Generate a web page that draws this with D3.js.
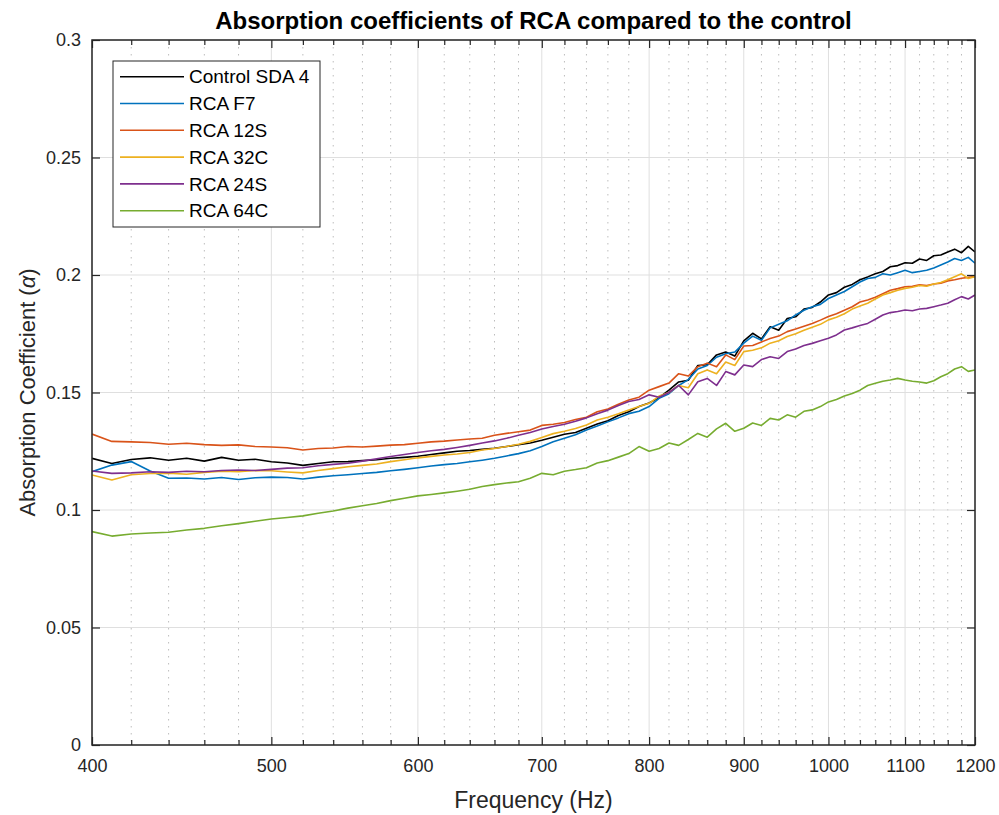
<!DOCTYPE html>
<html>
<head>
<meta charset="utf-8">
<script src="https://cdn.jsdelivr.net/npm/d3@7"></script>
<style>
    body { margin: 0; background: #fff; }
    svg text { font-family: "Liberation Sans", Arial, sans-serif; fill: #262626; }
</style>
</head>
<body>
<div id="chart"></div>
<script>
// frequency axis (Hz), one sample every 10 Hz
const frequency = [400, 410, 420, 430, 440, 450, 460, 470, 480, 490,
    500, 510, 520, 530, 540, 550, 560, 570, 580, 590,
    600, 610, 620, 630, 640, 650, 660, 670, 680, 690,
    700, 710, 720, 730, 740, 750, 760, 770, 780, 790,
    800, 810, 820, 830, 840, 850, 860, 870, 880, 890,
    900, 910, 920, 930, 940, 950, 960, 970, 980, 990,
    1000, 1010, 1020, 1030, 1040, 1050, 1060, 1070, 1080, 1090,
    1100, 1110, 1120, 1130, 1140, 1150, 1160, 1170, 1180, 1190, 1200];

const controlSDA4 = [0.1220, 0.1198, 0.1215, 0.1222, 0.1212, 0.1220, 0.1208, 0.1224, 0.1212, 0.1216,
    0.1205, 0.1200, 0.1190, 0.1198, 0.1205, 0.1206, 0.1210, 0.1214, 0.1220, 0.1224,
    0.1229, 0.1236, 0.1243, 0.1250, 0.1253, 0.1258, 0.1263, 0.1270, 0.1278, 0.1285,
    0.1297, 0.1310, 0.1322, 0.1330, 0.1348, 0.1366, 0.1380, 0.1402, 0.1418, 0.1440,
    0.1455, 0.1478, 0.1510, 0.1545, 0.1552, 0.1615, 0.1618, 0.1660, 0.1672, 0.1655,
    0.1720, 0.1752, 0.1728, 0.1780, 0.1765, 0.1815, 0.1822, 0.1855, 0.1862, 0.1885,
    0.1915, 0.1925, 0.1948, 0.1960, 0.1980, 0.1992, 0.2005, 0.2015, 0.2035, 0.2040,
    0.2052, 0.2050, 0.2068, 0.2062, 0.2082, 0.2085, 0.2098, 0.2110, 0.2095, 0.2122, 0.2098];

const rcaF7 = [0.1163, 0.1191, 0.1206, 0.1166, 0.1135, 0.1136, 0.1132, 0.1138, 0.1130, 0.1137,
    0.1140, 0.1138, 0.1132, 0.1140, 0.1146, 0.1150, 0.1155, 0.1160, 0.1167, 0.1173,
    0.1180, 0.1187, 0.1193, 0.1198, 0.1205, 0.1212, 0.1220, 0.1230, 0.1240, 0.1252,
    0.1270, 0.1290, 0.1305, 0.1320, 0.1340, 0.1357, 0.1375, 0.1392, 0.1410, 0.1420,
    0.1440, 0.1475, 0.1495, 0.1530, 0.1555, 0.1600, 0.1615, 0.1650, 0.1665, 0.1672,
    0.1710, 0.1740, 0.1722, 0.1775, 0.1790, 0.1805, 0.1830, 0.1850, 0.1865, 0.1875,
    0.1900, 0.1915, 0.1930, 0.1950, 0.1970, 0.1985, 0.1990, 0.2005, 0.2000, 0.2010,
    0.2020, 0.2010, 0.2015, 0.2020, 0.2030, 0.2043, 0.2055, 0.2070, 0.2062, 0.2075, 0.2050];

const rca12S = [0.1323, 0.1292, 0.1290, 0.1287, 0.1280, 0.1284, 0.1278, 0.1275, 0.1277, 0.1270,
    0.1268, 0.1265, 0.1255, 0.1262, 0.1264, 0.1270, 0.1268, 0.1272, 0.1276, 0.1278,
    0.1284, 0.1290, 0.1293, 0.1298, 0.1302, 0.1305, 0.1318, 0.1326, 0.1333, 0.1340,
    0.1360, 0.1365, 0.1372, 0.1385, 0.1395, 0.1418, 0.1430, 0.1450, 0.1468, 0.1480,
    0.1510, 0.1525, 0.1540, 0.1580, 0.1570, 0.1610, 0.1625, 0.1610, 0.1660, 0.1640,
    0.1698, 0.1700, 0.1715, 0.1730, 0.1740, 0.1759, 0.1770, 0.1782, 0.1794, 0.1808,
    0.1823, 0.1835, 0.1850, 0.1865, 0.1885, 0.1894, 0.1905, 0.1920, 0.1935, 0.1942,
    0.1950, 0.1952, 0.1958, 0.1955, 0.1962, 0.1965, 0.1975, 0.1980, 0.1986, 0.1990, 0.1993];

const rca32C = [0.1149, 0.1128, 0.1150, 0.1155, 0.1157, 0.1152, 0.1160, 0.1165, 0.1163, 0.1168,
    0.1167, 0.1162, 0.1158, 0.1168, 0.1176, 0.1184, 0.1190, 0.1196, 0.1206, 0.1214,
    0.1222, 0.1228, 0.1234, 0.1238, 0.1245, 0.1255, 0.1262, 0.1270, 0.1280, 0.1292,
    0.1309, 0.1325, 0.1335, 0.1347, 0.1362, 0.1383, 0.1395, 0.1410, 0.1426, 0.1440,
    0.1454, 0.1485, 0.1500, 0.1530, 0.1520, 0.1580, 0.1596, 0.1580, 0.1630, 0.1615,
    0.1674, 0.1680, 0.1690, 0.1710, 0.1720, 0.1738, 0.1750, 0.1765, 0.1778, 0.1790,
    0.1809, 0.1820, 0.1835, 0.1855, 0.1868, 0.1880, 0.1898, 0.1915, 0.1925, 0.1935,
    0.1943, 0.1948, 0.1955, 0.1952, 0.1962, 0.1968, 0.1980, 0.1993, 0.2005, 0.1985, 0.1993];

const rca24S = [0.1166, 0.1156, 0.1158, 0.1163, 0.1160, 0.1165, 0.1163, 0.1168, 0.1170, 0.1168,
    0.1173, 0.1178, 0.1180, 0.1188, 0.1194, 0.1199, 0.1208, 0.1218, 0.1228, 0.1236,
    0.1245, 0.1252, 0.1258, 0.1266, 0.1275, 0.1285, 0.1294, 0.1305, 0.1318, 0.1330,
    0.1345, 0.1355, 0.1365, 0.1378, 0.1392, 0.1410, 0.1425, 0.1445, 0.1462, 0.1470,
    0.1490, 0.1480, 0.1500, 0.1530, 0.1490, 0.1546, 0.1560, 0.1530, 0.1589, 0.1575,
    0.1617, 0.1610, 0.1640, 0.1652, 0.1645, 0.1674, 0.1685, 0.1700, 0.1709, 0.1720,
    0.1731, 0.1745, 0.1766, 0.1775, 0.1785, 0.1794, 0.1812, 0.1830, 0.1840, 0.1845,
    0.1851, 0.1848, 0.1855, 0.1858, 0.1865, 0.1872, 0.1880, 0.1895, 0.1908, 0.1898, 0.1915];

const rca64C = [0.0908, 0.0889, 0.0898, 0.0902, 0.0905, 0.0915, 0.0922, 0.0933, 0.0942, 0.0952,
    0.0962, 0.0968, 0.0975, 0.0986, 0.0996, 0.1008, 0.1018, 0.1028, 0.1040, 0.1050,
    0.1060, 0.1066, 0.1073, 0.1080, 0.1088, 0.1100, 0.1108, 0.1115, 0.1120, 0.1135,
    0.1156, 0.1150, 0.1165, 0.1172, 0.1180, 0.1200, 0.1210, 0.1225, 0.1240, 0.1270,
    0.1250, 0.1262, 0.1285, 0.1275, 0.1300, 0.1326, 0.1310, 0.1345, 0.1369, 0.1335,
    0.1348, 0.1370, 0.1360, 0.1390, 0.1383, 0.1405, 0.1395, 0.1420, 0.1426, 0.1440,
    0.1460, 0.1470, 0.1485, 0.1496, 0.1510, 0.1530, 0.1539, 0.1548, 0.1553, 0.1560,
    0.1553, 0.1548, 0.1545, 0.1540, 0.1550, 0.1567, 0.1580, 0.1600, 0.1610, 0.1590, 0.1596];

const seriesNames = ["Control SDA 4", "RCA F7", "RCA 12S", "RCA 32C", "RCA 24S", "RCA 64C"];
const seriesValues = [controlSDA4, rcaF7, rca12S, rca32C, rca24S, rca64C];
const seriesColors = ["#000000", "#0072BD", "#D95319", "#EDB120", "#7E2F8E", "#77AC30"];

const xTicks = [400, 500, 600, 700, 800, 900, 1000, 1100, 1200];
const xMinorTicks = [420, 440, 460, 480, 520, 540, 560, 580, 620, 640, 660, 680,
    720, 740, 760, 780, 820, 840, 860, 880, 920, 940, 960, 980,
    1020, 1040, 1060, 1080, 1120, 1140, 1160, 1180];
const yTicks = [0, 0.05, 0.1, 0.15, 0.2, 0.25, 0.3];
const yTickLabels = ["0", "0.05", "0.1", "0.15", "0.2", "0.25", "0.3"];

const margin = {top: 40, right: 24, bottom: 70, left: 92};
const width = 999 - margin.left - margin.right;
const height = 815 - margin.top - margin.bottom;

const svg = d3.select("#chart").append("svg")
    .attr("width", 999)
    .attr("height", 815);

const g = svg.append("g")
    .attr("transform", `translate(${margin.left},${margin.top})`);

const x = d3.scaleLog().domain([400, 1200]).range([0, width]);
const y = d3.scaleLinear().domain([0, 0.3]).range([height, 0]);

// grid
g.append("g").selectAll("line")
    .data(xMinorTicks)
    .enter().append("line")
    .attr("x1", d => x(d)).attr("x2", d => x(d))
    .attr("y1", 0).attr("y2", height)
    .attr("stroke", "#bdbdbd")
    .attr("stroke-width", 1)
    .attr("stroke-dasharray", "1.5,5.5");

g.append("g").selectAll("line")
    .data(xTicks)
    .enter().append("line")
    .attr("x1", d => x(d)).attr("x2", d => x(d))
    .attr("y1", 0).attr("y2", height)
    .attr("stroke", "#dfdfdf")
    .attr("stroke-width", 1);

g.append("g").selectAll("line")
    .data(yTicks)
    .enter().append("line")
    .attr("x1", 0).attr("x2", width)
    .attr("y1", d => y(d)).attr("y2", d => y(d))
    .attr("stroke", "#dfdfdf")
    .attr("stroke-width", 1);

// series
svg.append("clipPath").attr("id", "plot-clip")
    .append("rect").attr("width", width).attr("height", height);

const line = d3.line()
    .x((d, i) => x(frequency[i]))
    .y(d => y(d));

g.append("g").attr("clip-path", "url(#plot-clip)")
    .selectAll("path")
    .data(seriesValues)
    .enter().append("path")
    .attr("fill", "none")
    .attr("stroke", (d, i) => seriesColors[i])
    .attr("stroke-width", 1.6)
    .attr("stroke-linejoin", "round")
    .attr("d", line);

// axes, ticks pointing inward
const tickFont = "18px";

const xAxis = g.append("g")
    .attr("transform", `translate(0,${height})`)
    .call(d3.axisBottom(x).tickValues(xTicks).tickSize(-8).tickPadding(14).tickFormat(d3.format("d")));
xAxis.selectAll("text").style("font-size", tickFont);

g.append("g")
    .attr("transform", `translate(0,${height})`)
    .call(d3.axisBottom(x).tickValues(xMinorTicks).tickSize(-5).tickFormat(""));

g.append("g")
    .call(d3.axisTop(x).tickValues(xTicks).tickSize(-8).tickFormat(""));
g.append("g")
    .call(d3.axisTop(x).tickValues(xMinorTicks).tickSize(-5).tickFormat(""));

const yAxis = g.append("g")
    .call(d3.axisLeft(y).tickValues(yTicks).tickSize(-8).tickPadding(11)
        .tickFormat((d, i) => yTickLabels[i]));
yAxis.selectAll("text").style("font-size", tickFont);

g.append("g")
    .attr("transform", `translate(${width},0)`)
    .call(d3.axisRight(y).tickValues(yTicks).tickSize(-8).tickFormat(""));

g.selectAll(".domain").remove();
g.selectAll(".tick line").attr("stroke", "#262626").attr("stroke-width", 1.2);

g.append("rect")
    .attr("width", width)
    .attr("height", height)
    .attr("fill", "none")
    .attr("stroke", "#262626")
    .attr("stroke-width", 1.5);

// labels
svg.append("text")
    .attr("x", margin.left + width / 2)
    .attr("y", 29)
    .attr("text-anchor", "middle")
    .style("font-size", "24px")
    .style("font-weight", "bold")
    .style("fill", "#000")
    .text("Absorption coefficients of RCA compared to the control");

svg.append("text")
    .attr("x", margin.left + width / 2)
    .attr("y", 808)
    .attr("text-anchor", "middle")
    .style("font-size", "23px")
    .text("Frequency (Hz)");

const yLabel = svg.append("text")
    .attr("transform", `translate(35,${margin.top + height / 2}) rotate(-90)`)
    .attr("text-anchor", "middle")
    .style("font-size", "22px");
yLabel.append("tspan").text("Absorption Coefficient (");
yLabel.append("tspan").style("font-style", "italic").text("\u03b1");
yLabel.append("tspan").text(")");

// legend
const legend = svg.append("g").attr("transform", "translate(113,61)");
legend.append("rect")
    .attr("width", 207)
    .attr("height", 166)
    .attr("fill", "#fff")
    .attr("stroke", "#262626")
    .attr("stroke-width", 1);

const rows = legend.selectAll(".legend-row")
    .data(seriesNames)
    .enter().append("g")
    .attr("class", "legend-row")
    .attr("transform", (d, i) => `translate(0,${15.7 + i * 26.8})`);
rows.append("line")
    .attr("x1", 7).attr("x2", 71)
    .attr("stroke", (d, i) => seriesColors[i])
    .attr("stroke-width", 1.6);
rows.append("text")
    .attr("x", 76)
    .attr("dy", "0.35em")
    .style("font-size", "19px")
    .style("fill", "#000")
    .text(d => d);
</script>
</body>
</html>
